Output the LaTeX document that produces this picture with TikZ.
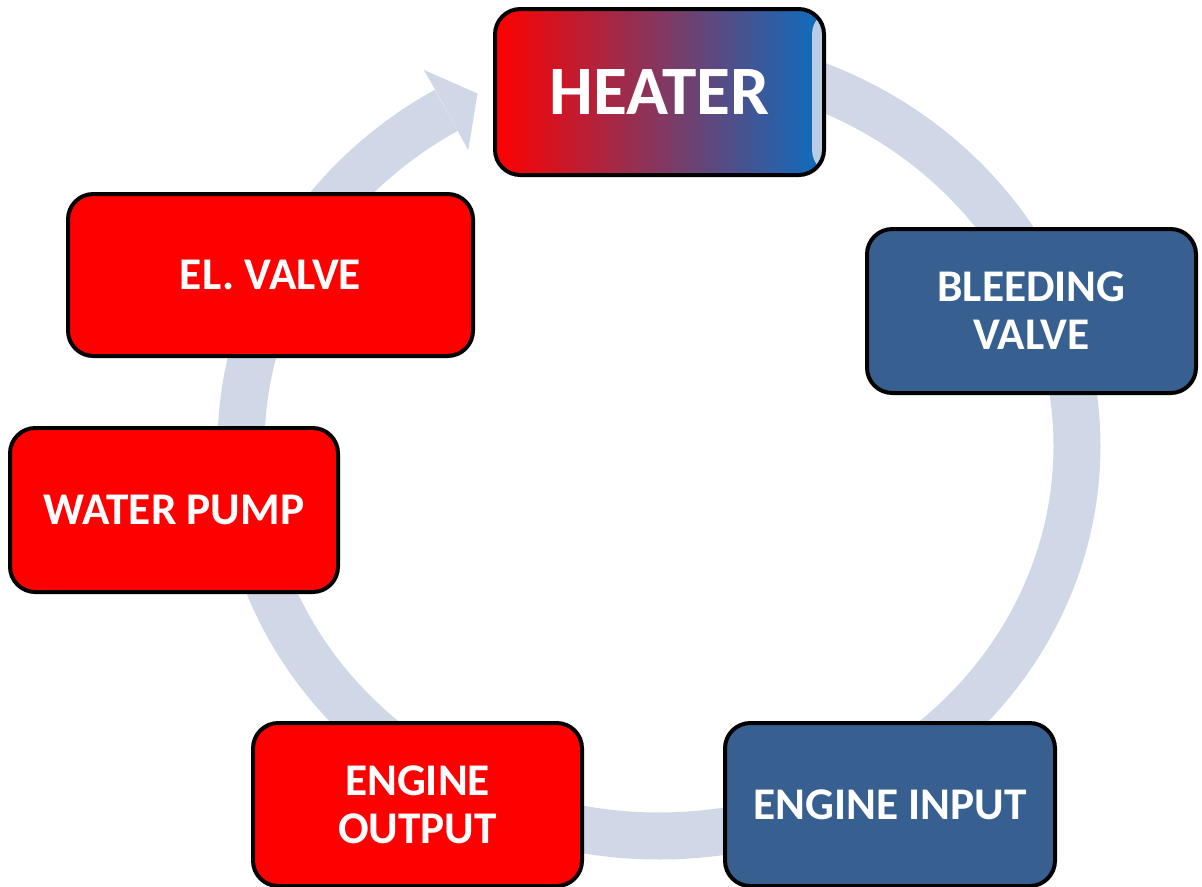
\documentclass[tikz,border=0pt]{standalone}
\usepackage{fontspec}
\setmainfont{Carlito}
\definecolor{ringcol}{RGB}{208,216,232}
\definecolor{boxred}{RGB}{255,0,0}
\definecolor{boxblue}{RGB}{55,96,145}
\definecolor{heatblue}{RGB}{10,110,192}
\definecolor{heatstrip}{RGB}{184,204,228}
\begin{document}
\begin{tikzpicture}[x=0.75pt,y=-0.75pt,
  ring/.style={draw=ringcol,line width=35.25pt},
  box/.style={draw=black,line width=3pt,rounded corners=19pt,text=white,
    align=center,inner sep=0pt,
    font=\fontsize{34}{36}\selectfont\bfseries},
  redbox/.style={box,fill=boxred},
  bluebox/.style={box,fill=boxblue}]
\useasboundingbox (0,0) rectangle (1202,886);
% circular flow ring
\draw[ring] plot[domain=-239.4:80,samples=240,smooth]
  ({659+418*cos(\x)},{446-390*sin(\x)});
\fill[ringcol] (423.7,69.8) -- (477.5,93.5) -- (468.3,150.3) -- (455,126) -- (437,93) -- cycle;
% boxes
\node[box,minimum width=246.75pt,minimum height=124.5pt,
  left color=boxred,right color=heatblue,
  font=\fontsize{52}{54}\selectfont\bfseries,
  path picture={\fill[heatstrip] ([xshift=-9pt]path picture bounding box.north east)
     rectangle (path picture bounding box.south east);}]
  (heater) at (659.5,92) {HEATER};
\node[bluebox,minimum width=246.75pt,minimum height=123pt]
  (bleed) at (1031.5,311) {BLEEDING\\VALVE};
\node[bluebox,minimum width=247.5pt,minimum height=122.25pt]
  (einput) at (890,804.5) {ENGINE INPUT};
\node[redbox,minimum width=246.75pt,minimum height=122.25pt]
  (eoutput) at (417.5,804.5) {ENGINE\\OUTPUT};
\node[redbox,minimum width=246pt,minimum height=123pt]
  (pump) at (174,510) {WATER PUMP};
\node[redbox,minimum width=303.75pt,minimum height=121.5pt]
  (elvalve) at (270.5,275) {EL. VALVE};
\end{tikzpicture}
\end{document}
